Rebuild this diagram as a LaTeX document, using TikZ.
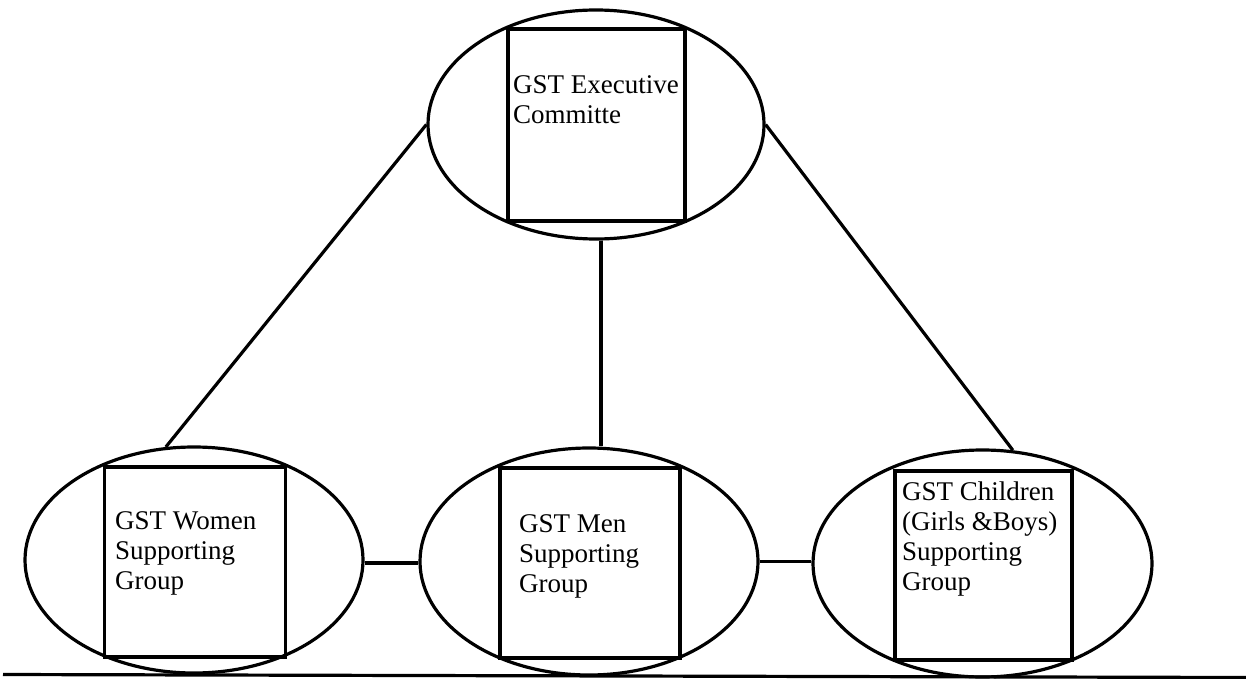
\documentclass[tikz,border=0pt]{standalone}
\usepackage{fontspec}
\setmainfont{Liberation Serif}
\usetikzlibrary{shapes.geometric}
\begin{document}
\begin{tikzpicture}[x=1pt,y=-1pt,
  oval/.style={draw, ellipse, line width=3.2pt, inner sep=0pt},
  box/.style={draw, rectangle, line width=3.2pt, inner sep=0pt},
  lbl/.style={anchor=north west, inner sep=0pt, align=left, font=\fontsize{27}{30}\selectfont},
  link/.style={line width=3.2pt}]
\useasboundingbox (0,0) rectangle (1246,679);
% ellipses
\node[oval, minimum width=336pt, minimum height=229pt] (top) at (596,124.5) {};
\node[oval, minimum width=338pt, minimum height=226pt] (women) at (194,560) {};
\node[oval, minimum width=338pt, minimum height=227pt] (men) at (589,561.5) {};
\node[oval, minimum width=339pt, minimum height=227pt] (kids) at (982.5,563.5) {};
% boxes
\node[box, minimum width=177pt, minimum height=192pt] (topbox) at (596.5,125) {};
\node[box, minimum width=181pt, minimum height=190pt] (womenbox) at (195,562) {};
\node[box, minimum width=180pt, minimum height=190pt] (menbox) at (590,563) {};
\node[box, minimum width=177pt, minimum height=189pt] (kidsbox) at (983.5,565.5) {};
% texts
\node[lbl] (toptext) at (513,75) {GST Executive\\Committe};
\node[lbl] (womentext) at (115,511) {GST Women\\Supporting\\Group};
\node[lbl] (mentext) at (519,514) {GST Men\\Supporting\\Group};
\node[lbl] (kidstext) at (902,482) {GST Children\\(Girls \&Boys)\\Supporting\\Group};
% connectors
\coordinate (vx) at (601,0);
\coordinate (hy) at (0,563);
\draw[link] (top.west) -- (women.104);
\draw[link] (top.east) -- (kids.75);
\draw[link] (top.south -| vx) -- (men.north -| vx);
\draw[link] (women.east |- hy) -- (men.west |- hy);
\draw[link] (men.east) -- (men.east -| kids.west);
% base line
\coordinate (bl) at (3,674.5);
\coordinate (br) at (1246,677.5);
\draw[link] (bl) -- (br);
\end{tikzpicture}
\end{document}
